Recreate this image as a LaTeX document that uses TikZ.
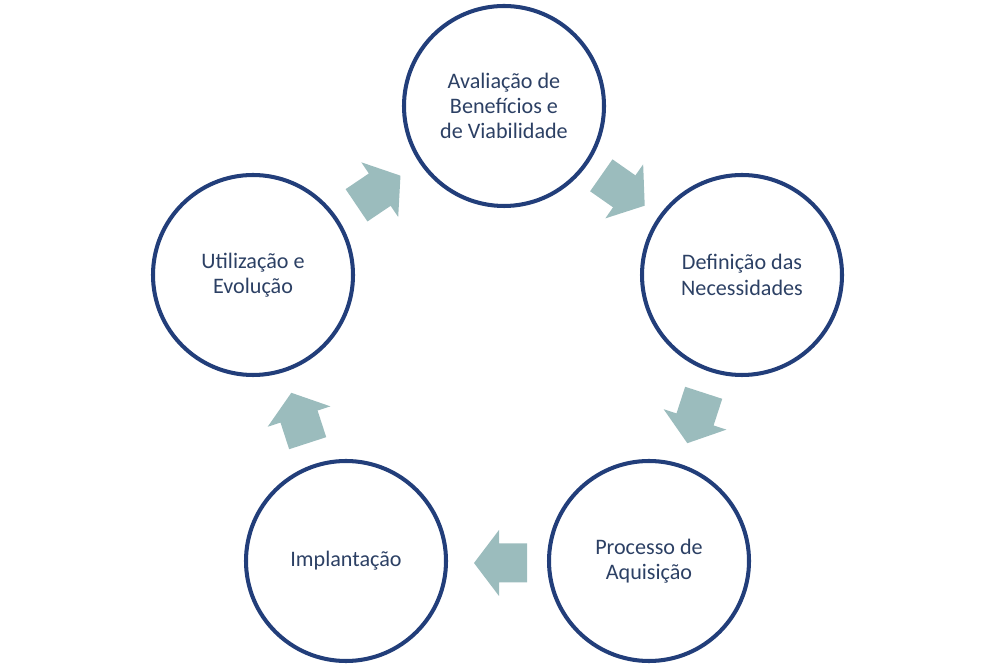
\documentclass[tikz,border=0pt]{standalone}
\usepackage{fontspec}
\setmainfont{Carlito}
\usetikzlibrary{calc}

\definecolor{ringblue}{RGB}{34,62,122}
\definecolor{txtblue}{RGB}{44,64,100}
\definecolor{arrowgray}{RGB}{155,188,189}

\tikzset{
  stage/.style={circle, draw=ringblue, line width=2.3pt, minimum size=4cm,
    inner sep=0pt, align=center, text=txtblue,
    font=\fontsize{12.6}{14.4}\selectfont},
  cyclearrow/.pic={
    \fill[arrowgray] (-0.53,-0.39) -- (0.03,-0.39) -- (0.03,-0.66) -- (0.53,0)
      -- (0.03,0.66) -- (0.03,0.39) -- (-0.53,0.39) -- cycle;
  }
}

\begin{document}
\begin{tikzpicture}
\useasboundingbox (0,0) rectangle (20.04,13.4);
\node[stage] (aval)  at (10.08,11.28) {Avaliação de\\Benefícios e\\de Viabilidade};
\node[stage] (defin) at (14.84,7.9)   {Definição das\\Necessidades};
\node[stage] (proc)  at (12.98,2.18)  {Processo de\\Aquisição};
\node[stage] (impl)  at (6.92,2.18)   {Implantação};
\node[stage] (util)  at (5.06,7.9)    {Utilização e\\Evolução};
\pic[rotate=34]   at ($(util)!0.5!(aval)$)  {cyclearrow};
\pic[rotate=-35]  at ($(aval)!0.5!(defin)$) {cyclearrow};
\pic[rotate=-108] at ($(defin)!0.5!(proc)$) {cyclearrow};
\pic[rotate=180]  at ($(proc)!0.5!(impl)+(0.06,-0.04)$)  {cyclearrow};
\pic[rotate=108]  at ($(impl)!0.5!(util)$)  {cyclearrow};
\end{tikzpicture}
\end{document}
